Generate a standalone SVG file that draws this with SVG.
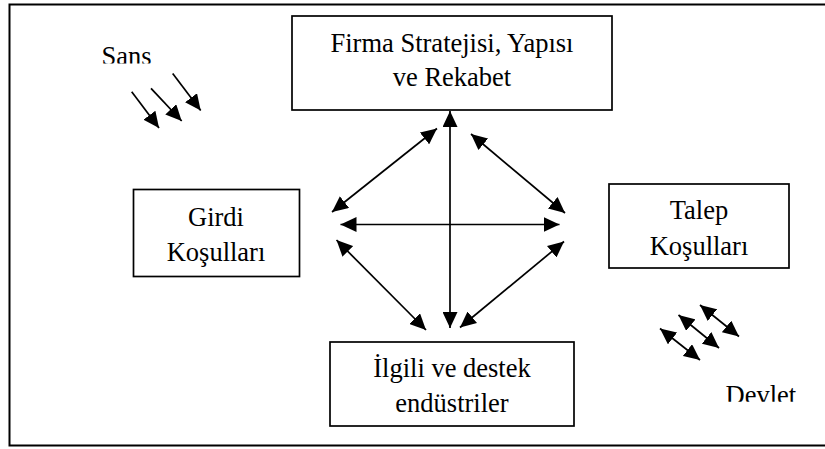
<svg xmlns="http://www.w3.org/2000/svg" width="825" height="449" viewBox="0 0 825 449">
<style>
.box{fill:#fff;stroke:#000;stroke-width:1.7}
.t{font-family:"Liberation Serif","Times New Roman",serif;font-size:26.5px;fill:#000}
.c{text-anchor:middle}
.ln{stroke:#000;stroke-width:1.7;fill:none}
.dbl{marker-start:url(#ah);marker-end:url(#ah)}
.one{marker-end:url(#ah)}
</style>
<defs>
<marker id="ah" markerUnits="userSpaceOnUse" markerWidth="17" markerHeight="15" refX="16" refY="7.5" orient="auto-start-reverse">
<path d="M0,0 L16,7.5 L0,15 z" fill="#000"/>
</marker>
<clipPath id="clipSans"><rect x="90" y="30" width="90" height="33.5"/></clipPath>
<clipPath id="clipDevlet"><rect x="715" y="370" width="100" height="31.8"/></clipPath>
</defs>
<rect width="825" height="449" fill="#fff"/>
<path d="M825,4.5 H9.5 V445.5 H825" fill="none" stroke="#000" stroke-width="2"/>

<g id="firma">
<rect class="box" x="292" y="16" width="320" height="94"/>
<text class="t c" x="452" y="52">Firma Stratejisi, Yapısı</text>
<text class="t c" x="452" y="86">ve Rekabet</text>
</g>
<g id="girdi">
<rect class="box" x="133.5" y="189.5" width="166" height="87"/>
<text class="t c" x="216" y="226">Girdi</text>
<text class="t c" x="216" y="261">Koşulları</text>
</g>
<g id="talep">
<rect class="box" x="609" y="184" width="180" height="84"/>
<text class="t c" x="699" y="219">Talep</text>
<text class="t c" x="699" y="255">Koşulları</text>
</g>
<g id="ilgili">
<rect class="box" x="330" y="342" width="244" height="84"/>
<text class="t c" x="452" y="377">İlgili ve destek</text>
<text class="t c" x="452" y="412">endüstriler</text>
</g>
<g id="sans">
<text class="t" x="101.5" y="64.5" clip-path="url(#clipSans)">Sans</text>
</g>
<g id="devlet">
<text class="t" x="725.5" y="403.5" clip-path="url(#clipDevlet)">Devlet</text>
</g>

<g id="connectors">
<line class="ln dbl" x1="450" y1="111" x2="450" y2="328"/>
<line class="ln dbl" x1="340.5" y1="224.5" x2="559.5" y2="224.5"/>
<line class="ln dbl" x1="332" y1="212" x2="437" y2="128.5"/>
<line class="ln dbl" x1="471" y1="134" x2="565" y2="213"/>
<line class="ln dbl" x1="336.5" y1="240" x2="426" y2="330"/>
<line class="ln dbl" x1="460" y1="327.5" x2="564" y2="241.5"/>
<line class="ln one" x1="131.7" y1="91.7" x2="159" y2="128"/>
<line class="ln one" x1="151" y1="88.3" x2="181.7" y2="121"/>
<line class="ln one" x1="172.7" y1="73.5" x2="200.7" y2="110.5"/>
<line class="ln dbl" x1="660" y1="328.5" x2="700" y2="360"/>
<line class="ln dbl" x1="678.5" y1="315" x2="719" y2="348"/>
<line class="ln dbl" x1="700" y1="305" x2="739" y2="336.5"/>
</g>
</svg>
